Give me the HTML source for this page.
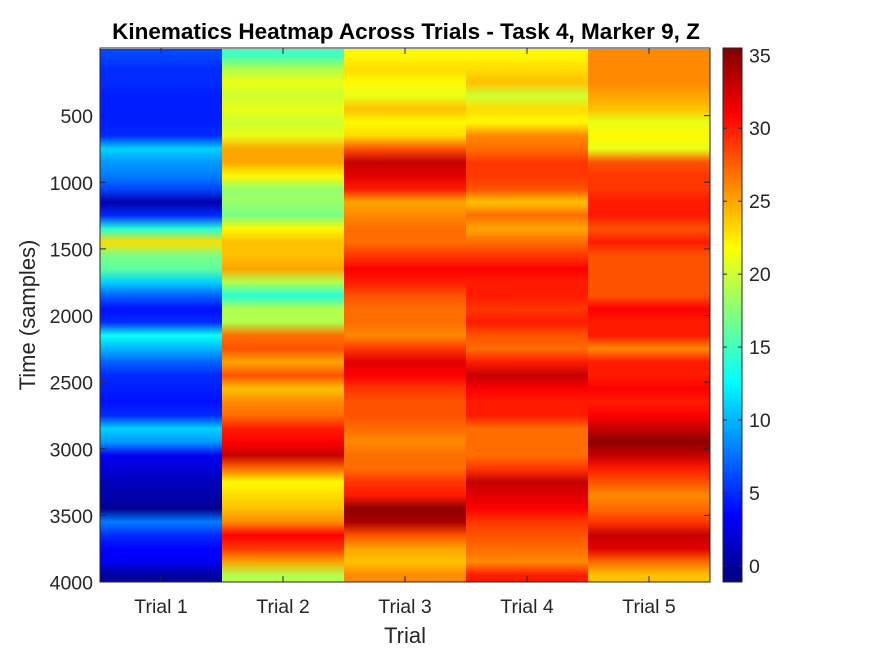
<!DOCTYPE html>
<html><head><meta charset="utf-8"><style>
body{margin:0;background:#fff;}
svg text{font-family:"Liberation Sans",sans-serif;fill:#262626;}
</style></head><body>
<svg id="chart" width="875" height="656" xmlns="http://www.w3.org/2000/svg">
<defs id="defs"></defs>
<text x="406" y="39" text-anchor="middle" font-size="22.5" font-weight="bold" style="fill:#000">Kinematics Heatmap Across Trials - Task 4, Marker 9, Z</text>
<g id="cells"></g>
<g id="axes"></g>
<text x="405" y="643" text-anchor="middle" font-size="22">Trial</text>
<text transform="translate(35,315) rotate(-90)" text-anchor="middle" font-size="22">Time (samples)</text>
</svg>
<script>
const trials = ["Trial 1","Trial 2","Trial 3","Trial 4","Trial 5"];
const yTicks = [500,1000,1500,2000,2500,3000,3500,4000];
const cbTicks = [0,5,10,15,20,25,30,35];
const trial1 = [6,5,5,4.5,4.5,4.5,5,11,9,8,6,0.5,5,14,23,17,16,11,7,4,5,13,10,7,5,4.5,4,5,11,9,3,2,1,0.5,-0.5,8,5,3.5,3,0];
const trial2 = [15,19,21,20,21,20,21,25,25,22,18,18,17,22,24,24,25,19,14,19,19,27,28,25,28,24,26,27,30,31,33,27,22,23,24,26,31,29,25,19];
const trial3 = [22,23,22,21,24,22,23,28,33,32,30,25,26,27,27,29,31,30,28,27,27,26,29,32,31,29,28,28,27,26,27,27,29,30,35,34,28,25,24,26];
const trial4 = [22,23,24,20,23,22,26,27,29,29,28,24,27,25,27,29,31,30,30,29,30,28,27,30,33,31,30,30,27,27,27,29,33,32,31,29,28,27,26,30];
const trial5 = [26,26,26,25,24,21,22,21,28,29,29,30,30,28,30,28,28,28,28,31,30,30,26,30,30,31,30,31,33,35,33,30,28,26,27,29,33,32,27,24];
const series = [trial1,trial2,trial3,trial4,trial5];
const cmin=-1.1, cmax=35.5, tMax=4000;
const X0=100,X1=710,Y0=49,Y1=582;
const xScale=i=>X0+(X1-X0)*i/trials.length;
const yScale=v=>Y0+(Y1-Y0)*v/tMax;
const cbY=v=>Y1-(Y1-Y0+1)*(v-cmin)/(cmax-cmin);
function jet(v){let t=Math.max(0,Math.min(1,(v-cmin)/(cmax-cmin)));
 const f=x=>Math.round(255*Math.max(0,Math.min(1,1.5-Math.abs(4*t-x))));
 return `rgb(${f(3)},${f(2)},${f(1)})`;}
const NS="http://www.w3.org/2000/svg";
const defs=document.getElementById('defs'),cells=document.getElementById('cells'),axes=document.getElementById('axes');
function mk(tag,attrs,parent){const e=document.createElementNS(NS,tag);for(const k in attrs)e.setAttribute(k,attrs[k]);parent.appendChild(e);return e;}
series.forEach((arr,i)=>{
 const g=mk('linearGradient',{id:'g'+i,x1:0,y1:0,x2:0,y2:1},defs);
 const n=arr.length;
 arr.forEach((v,j)=>{mk('stop',{offset:((j+0.5)/n),'stop-color':jet(v)},g);});
 const r=mk('rect',{x:xScale(i),y:Y0,width:xScale(i+1)-xScale(i),height:Y1-Y0,fill:`url(#g${i})`},cells);
 
 
});
const box=mk('rect',{x:X0,y:Y0-1,width:X1-X0,height:Y1-Y0+1,fill:'none',stroke:'#262626','stroke-width':1},axes);


trials.forEach((t,i)=>{const cx=(xScale(i)+xScale(i+1))/2;
 mk('line',{x1:cx,x2:cx,y1:Y1,y2:Y1-6,stroke:'#262626'},axes);
 mk('line',{x1:cx,x2:cx,y1:Y0-1,y2:Y0+5,stroke:'#262626'},axes);
 const tx=mk('text',{x:cx,y:613,'text-anchor':'middle','font-size':19.5},axes);tx.textContent=t;
 
 
});
yTicks.forEach(v=>{const y=yScale(v);
 mk('line',{x1:X0,x2:X0+6,y1:y,y2:y,stroke:'#262626'},axes);
 mk('line',{x1:X1,x2:X1-6,y1:y,y2:y,stroke:'#262626'},axes);
 const tx=mk('text',{x:93,y:y+7.5,'text-anchor':'end','font-size':19.5},axes);tx.textContent=v;
 
 
});
const cg=mk('linearGradient',{id:'cbg',x1:0,y1:1,x2:0,y2:0},defs);
for(let k=0;k<=8;k++){mk('stop',{offset:k/8,'stop-color':jet(cmin+(cmax-cmin)*k/8)},cg);}
const cb=mk('rect',{x:723,y:Y0-1,width:19,height:Y1-Y0+1,fill:'url(#cbg)',stroke:'#262626'},axes);


cbTicks.forEach(v=>{const y=cbY(v);
 mk('line',{x1:738,x2:742,y1:y,y2:y,stroke:'#262626'},axes);
 mk('line',{x1:723,x2:727,y1:y,y2:y,stroke:'#262626'},axes);
 const tx=mk('text',{x:749,y:y+7,'font-size':19.5},axes);tx.textContent=v;
 
 
});
</script>
</body></html>
